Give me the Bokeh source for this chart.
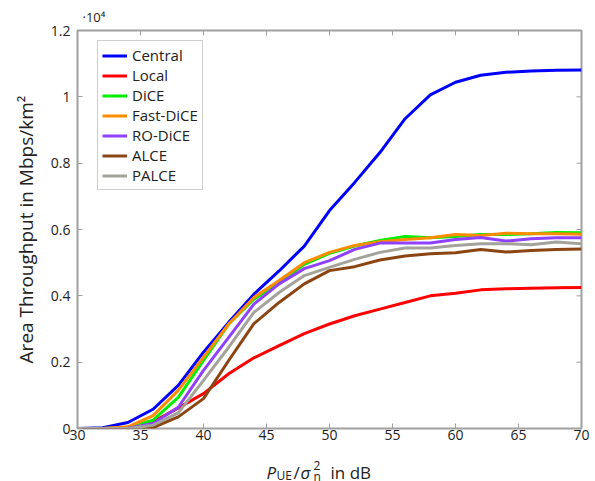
import math
from bokeh.plotting import figure
from bokeh.layouts import column
from bokeh.models import (ColumnDataSource, Legend, LegendItem, FixedTicker,
                          Label, Range1d, Title)
from bokeh.embed import file_html
from bokeh.resources import INLINE

# ---------------- data (throughput in units of 1e4 Mbps/km^2) ----------------
snr_db = [30, 32, 34, 36, 38, 40, 42, 44, 46, 48, 50, 52, 54, 56, 58, 60, 62, 64, 66, 68, 70]

central   = [0, 0.002, 0.018, 0.058, 0.13, 0.23, 0.32, 0.405, 0.475, 0.55, 0.657, 0.742, 0.832, 0.934, 1.006, 1.044, 1.065, 1.074, 1.078, 1.080, 1.081]
local     = [0, 0, 0.003, 0.02, 0.062, 0.105, 0.165, 0.213, 0.25, 0.286, 0.315, 0.34, 0.36, 0.38, 0.40, 0.408, 0.418, 0.421, 0.423, 0.424, 0.425]
dice      = [0, 0, 0.003, 0.025, 0.094, 0.205, 0.315, 0.39, 0.44, 0.495, 0.528, 0.55, 0.567, 0.579, 0.575, 0.579, 0.585, 0.585, 0.587, 0.591, 0.59]
fast_dice = [0, 0, 0.005, 0.039, 0.115, 0.215, 0.315, 0.395, 0.446, 0.50, 0.531, 0.552, 0.563, 0.57, 0.575, 0.585, 0.582, 0.589, 0.587, 0.587, 0.586]
ro_dice   = [0, 0, 0.001, 0.015, 0.064, 0.175, 0.275, 0.375, 0.436, 0.482, 0.506, 0.54, 0.559, 0.559, 0.559, 0.57, 0.576, 0.565, 0.572, 0.575, 0.575]
alce      = [0, 0, 0, 0.003, 0.035, 0.09, 0.205, 0.316, 0.38, 0.436, 0.476, 0.488, 0.508, 0.52, 0.527, 0.53, 0.54, 0.532, 0.537, 0.54, 0.541]
palce     = [0, 0, 0, 0.01, 0.047, 0.145, 0.245, 0.35, 0.41, 0.461, 0.486, 0.51, 0.531, 0.544, 0.544, 0.552, 0.557, 0.557, 0.554, 0.562, 0.557]

series_names = ["Central", "Local", "DiCE", "Fast-DiCE", "RO-DiCE", "ALCE", "PALCE"]
series_values = [central, local, dice, fast_dice, ro_dice, alce, palce]
series_colors = ["#0000ff", "#ff0000", "#00ee00", "#ff8c00", "#9040ff", "#8b4513", "#a3a39b"]

x_ticks = [30, 35, 40, 45, 50, 55, 60, 65, 70]
y_ticks = [0, 0.2, 0.4, 0.6, 0.8, 1.0, 1.2]
y_tick_labels = {0: "0", 0.2: "0.2", 0.4: "0.4", 0.6: "0.6", 0.8: "0.8", 1.0: "1", 1.2: "1.2"}
x_min, x_max = 30, 70
y_min, y_max = 0, 1.2

FONT = "Open Sans"
AX = "#a0a0a0"
TXT = "#222222"
W, H = 595, 481
FRAME_L, FRAME_R = 77, 581   # frame edges in page pixels
H_MAIN = 449

# main plot
p = figure(width=W, height=H_MAIN, output_backend="svg", toolbar_location=None,
           x_range=Range1d(x_min, x_max), y_range=Range1d(y_min, y_max),
           min_border_left=FRAME_L, min_border_right=W - FRAME_R,
           min_border_top=30, min_border_bottom=21)
p.xgrid.visible = False
p.ygrid.visible = False
p.outline_line_color = AX
p.outline_line_width = 2
p.border_fill_color = "white"

items = []
for name, vals, col in zip(series_names, series_values, series_colors):
    src = ColumnDataSource(dict(x=snr_db, y=vals))
    r = p.line("x", "y", source=src, line_color=col, line_width=3, line_join="round")
    items.append(LegendItem(label=name, renderers=[r]))

# inward ticks on the top and right edges (half of each dash is clipped by the frame)
p.scatter(x=x_ticks, y=[y_max] * len(x_ticks), marker="dash", angle=math.pi / 2,
          size=10, line_color=AX, line_width=1)
p.scatter(x=[x_max] * len(y_ticks), y=y_ticks, marker="dash",
          size=10, line_color=AX, line_width=1)

for ax in (p.xaxis[0], p.yaxis[0]):
    ax.axis_line_color = None
    ax.major_tick_line_color = AX
    ax.major_tick_in = 5
    ax.major_tick_out = 0
    ax.minor_tick_line_color = None
    ax.major_label_text_font = FONT
    ax.major_label_text_font_size = "14px"
    ax.major_label_text_color = TXT

p.xaxis.ticker = FixedTicker(ticks=x_ticks)
p.yaxis.ticker = FixedTicker(ticks=y_ticks)
p.yaxis.major_label_overrides = y_tick_labels
p.xaxis.major_label_standoff = 1
p.yaxis.major_label_standoff = 7

p.yaxis.axis_label = "Area Throughput in Mbps/km²"
p.yaxis.axis_label_text_font = FONT
p.yaxis.axis_label_text_font_size = "19px"
p.yaxis.axis_label_text_font_style = "normal"
p.yaxis.axis_label_text_color = TXT
p.yaxis.axis_label_standoff = 9

p.title = Title(text="·10⁴", align="left", offset=5, vertical_align="middle",
                text_font=FONT, text_font_size="13px", text_font_style="normal",
                text_color=TXT, standoff=8)

legend = Legend(items=items, location=(20, 238), padding=4, spacing=0,
                glyph_height=19, label_height=19, glyph_width=25, label_standoff=5,
                label_text_font=FONT, label_text_font_size="15px", label_text_color=TXT,
                border_line_color=AX, border_line_width=1.5, margin=0,
                background_fill_alpha=1.0)
p.add_layout(legend, "center")

# bottom strip (frame aligned with the main plot; x in page pixels): x-axis label
H_BOT = H - H_MAIN
bot = figure(width=W, height=H_BOT, output_backend="svg", toolbar_location=None,
             x_range=Range1d(FRAME_L, FRAME_R), y_range=Range1d(0, H_BOT),
             min_border_left=FRAME_L, min_border_right=W - FRAME_R,
             min_border_top=0, min_border_bottom=0)
bot.axis.visible = False
bot.xgrid.visible = False
bot.ygrid.visible = False
bot.outline_line_color = None


def lab(x, page_baseline, text, size, style="normal"):
    bot.add_layout(Label(x=x, y=H - page_baseline, text=text, text_font=FONT,
                         text_font_size=size, text_font_style=style, text_color=TXT,
                         text_baseline="alphabetic", text_align="left"))


lab(266, 472, "P", "17px", "italic")
lab(276, 475, "UE", "12px")
lab(293, 472, "/", "17px")
lab(300, 472, "σ", "17px", "italic")
lab(313, 465, "2", "12px")
lab(313, 476, "n", "12px")
lab(330, 472, "in dB", "17px")

layout = column(p, bot, spacing=0)
open("out.html", "w").write(file_html(layout, INLINE))
